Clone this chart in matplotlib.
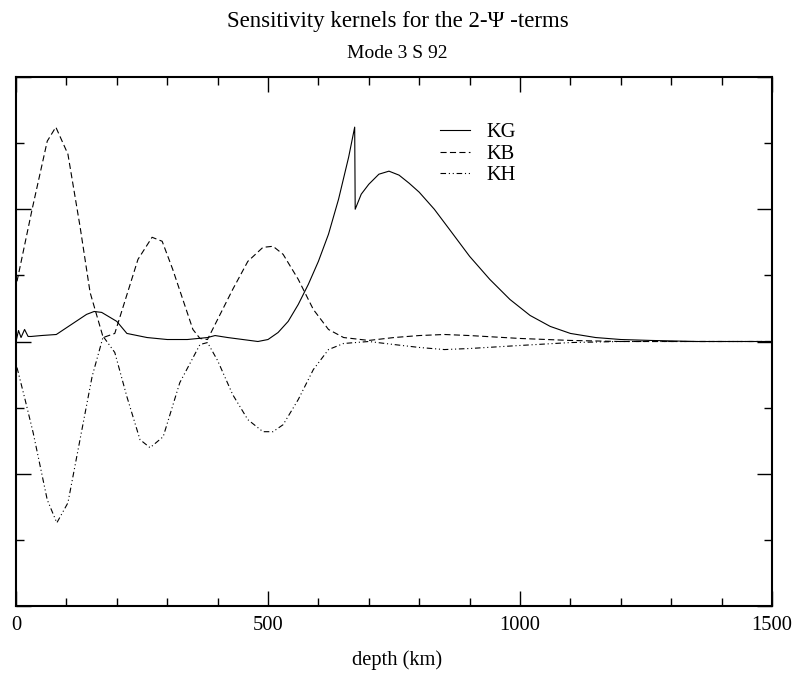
import numpy as np
import matplotlib
matplotlib.use('Agg')
import matplotlib.pyplot as plt
from matplotlib.ticker import MultipleLocator, NullFormatter

plt.rcParams['font.family'] = ['Liberation Serif', 'DejaVu Serif']

# kernels (depth in km, arbitrary amplitude)
depth_kg = [0, 5, 10, 17, 24, 30, 50, 80, 110, 140, 155, 170, 200, 220, 260, 300,
            340, 380, 395, 420, 450, 480, 500, 520, 540, 560, 580, 600, 620, 640,
            660, 672, 673, 685, 700, 720, 740, 760, 780, 800, 830, 860, 900, 940,
            980, 1020, 1060, 1100, 1150, 1200, 1260, 1350, 1500]
kg = [0.0, 0.083, 0.03, 0.091, 0.038, 0.038, 0.045, 0.053, 0.129, 0.205, 0.227,
      0.220, 0.152, 0.061, 0.030, 0.015, 0.015, 0.030, 0.045, 0.030, 0.015, 0.0,
      0.015, 0.068, 0.152, 0.280, 0.432, 0.606, 0.811, 1.076, 1.394, 1.621, 1.0,
      1.114, 1.189, 1.265, 1.288, 1.258, 1.197, 1.129, 1.0, 0.848, 0.644, 0.470,
      0.318, 0.197, 0.114, 0.061, 0.030, 0.015, 0.008, 0.0, 0.0]

depth_kb = [2, 32, 62, 79, 103, 127, 147, 173, 196, 242, 270, 290, 311, 351, 365,
            380, 400, 430, 460, 490, 510, 530, 560, 590, 620, 650, 700, 750, 800,
            850, 900, 1000, 1100, 1200, 1500]
kb = [0.455, 1.0, 1.515, 1.621, 1.417, 0.871, 0.371, 0.03, 0.061, 0.621, 0.788,
      0.758, 0.545, 0.091, 0.023, 0.015, 0.167, 0.394, 0.606, 0.712, 0.720, 0.659,
      0.470, 0.242, 0.091, 0.03, 0.008, 0.03, 0.045, 0.053, 0.045, 0.023, 0.008,
      0.0, 0.0]

depth_kh = [2, 18, 34, 62, 81, 103, 127, 151, 173, 196, 220, 246, 266, 292, 325,
            365, 380, 400, 430, 460, 490, 510, 530, 560, 590, 620, 650, 700, 750,
            800, 850, 900, 1000, 1100, 1200, 1500]
kh = [-0.197, -0.439, -0.689, -1.197, -1.371, -1.220, -0.742, -0.265, 0.038,
      -0.083, -0.417, -0.742, -0.803, -0.720, -0.311, -0.023, -0.008, -0.144,
      -0.402, -0.591, -0.682, -0.682, -0.629, -0.439, -0.212, -0.061, -0.015,
      0.0, -0.023, -0.045, -0.061, -0.053, -0.030, -0.008, 0.0, 0.0]

fig = plt.figure(figsize=(7.95, 6.82), dpi=100)
ax = fig.add_axes([16/795, 1-606/682, 756/795, 529/682])

lw = 0.8
ax.plot(depth_kg, kg, color='k', lw=lw, label='KG')
ax.plot(depth_kb, kb, color='k', lw=lw, ls=(0, (5.5, 3)), label='KB')
ax.plot(depth_kh, kh, color='k', lw=lw, ls=(0, (5, 2.5, 1, 2.5, 1, 2.5)), label='KH')

ax.set_xlim(0, 1500)
ax.set_ylim(-2, 2)
ax.xaxis.set_major_locator(MultipleLocator(500))
ax.xaxis.set_minor_locator(MultipleLocator(100))
ax.yaxis.set_major_locator(MultipleLocator(1))
ax.yaxis.set_minor_locator(MultipleLocator(0.5))
ax.yaxis.set_major_formatter(NullFormatter())
ax.tick_params(which='both', direction='in', top=True, right=True, width=1.0,
               labelsize=14.8, pad=7)
ax.tick_params(which='major', length=11)
ax.tick_params(which='minor', length=5.5)
for sp in ax.spines.values():
    sp.set_linewidth(1.5)

ax.legend(loc='upper left', bbox_to_anchor=(440/795, 1-123/682),
          bbox_transform=fig.transFigure, frameon=False, fontsize=14.8,
          handlelength=1.45, handletextpad=0.8, labelspacing=0.1,
          borderpad=0, borderaxespad=0)

fig.text(0.5, 1-22/682, 'Sensitivity kernels for the 2-\u03a8 -terms',
         ha='center', va='center', fontsize=16.5)
fig.text(0.5, 1-53/682, 'Mode 3 S 92', ha='center', va='center', fontsize=14)
fig.text(0.5, 1-660/682, 'depth (km)', ha='center', va='center', fontsize=14.8)

fig.savefig('out.png', dpi=100)
